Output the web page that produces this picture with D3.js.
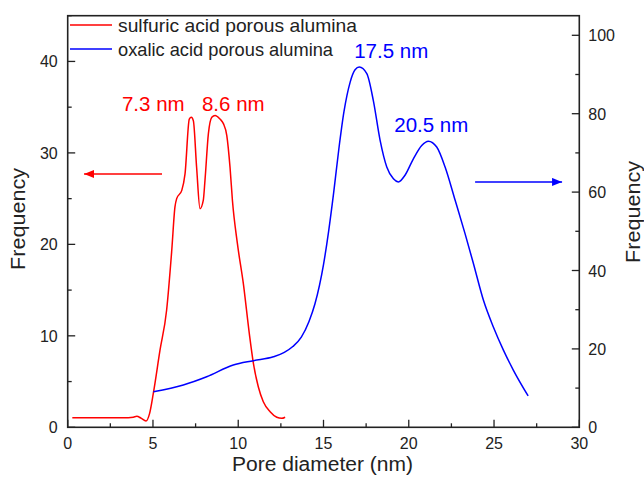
<!DOCTYPE html>
<html>
<head>
<meta charset="utf-8">
<script src="https://cdn.jsdelivr.net/npm/d3@7"></script>
<style>
  body { margin: 0; background: #fff; }
  text { font-family: "Liberation Sans", Arial, sans-serif; }
</style>
</head>
<body>
<div id="chart"></div>
<script>
// sulfuric acid porous alumina (left axis)
const sulfuricX = [0.27, 1.5, 3.55, 3.85, 4.05, 4.3, 4.59, 4.8, 5.02, 5.41, 5.8, 6.1, 6.29, 6.39, 6.69, 6.88, 7.13, 7.25, 7.37, 7.56, 7.76, 7.95, 8.05, 8.25, 8.45, 8.64, 8.93, 9.13, 9.33, 9.52, 9.66, 9.95, 10.3, 10.65, 10.89, 11.18, 11.47, 11.87, 12.26, 12.55, 12.75];
const sulfuricY = [1.05, 1.05, 1.05, 1.1, 1.2, 1.0, 0.69, 1.5, 3.7, 8.4, 12.8, 19.3, 24.1, 25.0, 25.9, 27.7, 33.7, 33.9, 33.5, 28.4, 23.9, 24.8, 27.0, 32.1, 33.9, 34.1, 33.7, 33.2, 31.9, 28.4, 24.8, 20.1, 15.7, 10.25, 7.0, 4.4, 2.8, 1.7, 1.1, 0.98, 1.1];

// oxalic acid porous alumina (right axis)
const oxalicX = [5.02, 6.78, 8.15, 9.71, 10.89, 12.06, 12.7, 13.2, 13.7, 14.15, 14.5, 15.0, 15.3, 15.6, 15.9, 16.2, 16.56, 16.85, 17.1, 17.54, 17.92, 18.32, 18.71, 19.1, 19.39, 19.78, 20.27, 20.76, 21.15, 21.64, 22.13, 22.72, 23.3, 23.79, 24.38, 24.96, 25.55, 26.13, 27.0];
const oxalicY = [9.07, 10.8, 12.9, 15.9, 17.0, 18.0, 19.1, 20.6, 23.0, 27.0, 31.5, 41.5, 50.0, 60.0, 71.0, 80.5, 88.0, 91.2, 91.9, 90.2, 83.4, 73.2, 66.4, 63.4, 62.6, 64.3, 68.5, 71.9, 73.0, 71.5, 66.4, 57.9, 49.4, 41.8, 32.4, 25.6, 19.7, 14.6, 8.0];

const seriesNames = ["sulfuric acid porous alumina", "oxalic acid porous alumina"];
const xTicks = [0, 5, 10, 15, 20, 25, 30];
const leftTicks = [0, 10, 20, 30, 40];
const rightTicks = [0, 20, 40, 60, 80, 100];

// peak labels: [x, y, text] (text centre / baseline in data units)
const sulfuricPeaks = [[5.02, 34.6, "7.3 nm"], [9.71, 34.6, "8.6 nm"]];
const oxalicPeaks = [[18.97, 94.2, "17.5 nm"], [21.32, 75.3, "20.5 nm"]];
// arrows: [fromX, toX, y]
const sulfuricArrow = [5.53, 0.96, 27.7];
const oxalicArrow = [23.89, 28.99, 62.6];

const width = 644, height = 485;
const margin = { top: 15.7, right: 64.7, bottom: 57.7, left: 67.7 };
const red = "#ff0000", blue = "#0000ff", ink = "#222";

const svg = d3.select("#chart").append("svg")
  .attr("width", width).attr("height", height);

const x = d3.scaleLinear().domain([0, 30]).range([margin.left, width - margin.right]);
const yL = d3.scaleLinear().domain([0, 45]).range([height - margin.bottom, margin.top]);
const yR = d3.scaleLinear().domain([0, 105]).range([height - margin.bottom, margin.top]);

const x0 = margin.left, x1 = width - margin.right, y0 = height - margin.bottom, y1 = margin.top;

// minor ticks
const minorX = d3.range(0, 30.01, 2.5).filter(v => v % 5 !== 0);
const minorL = d3.range(0, 45.01, 5).filter(v => v % 10 !== 0);
const minorR = d3.range(0, 105.01, 10).filter(v => v % 20 !== 0);

const tk = svg.append("g").attr("stroke", ink).attr("stroke-width", 1.3);
xTicks.forEach(v => tk.append("line").attr("x1", x(v)).attr("x2", x(v)).attr("y1", y0).attr("y2", y0 - 7.5));
minorX.forEach(v => tk.append("line").attr("x1", x(v)).attr("x2", x(v)).attr("y1", y0).attr("y2", y0 - 4));
leftTicks.forEach(v => tk.append("line").attr("x1", x0).attr("x2", x0 + 7.5).attr("y1", yL(v)).attr("y2", yL(v)));
minorL.forEach(v => tk.append("line").attr("x1", x0).attr("x2", x0 + 4).attr("y1", yL(v)).attr("y2", yL(v)));
rightTicks.forEach(v => tk.append("line").attr("x1", x1).attr("x2", x1 - 7.5).attr("y1", yR(v)).attr("y2", yR(v)));
minorR.forEach(v => tk.append("line").attr("x1", x1).attr("x2", x1 - 4).attr("y1", yR(v)).attr("y2", yR(v)));

// frame
svg.append("rect").attr("x", x0).attr("y", y1).attr("width", x1 - x0).attr("height", y0 - y1)
  .attr("fill", "none").attr("stroke", ink).attr("stroke-width", 1.6);

// tick labels
const tl = svg.append("g").attr("font-size", 16).attr("fill", ink);
xTicks.forEach(v => tl.append("text").attr("x", x(v)).attr("y", y0 + 22).attr("text-anchor", "middle").text(v));
leftTicks.forEach(v => tl.append("text").attr("x", x0 - 10).attr("y", yL(v) + 6).attr("text-anchor", "end").text(v));
rightTicks.forEach(v => tl.append("text").attr("x", x1 + 9).attr("y", yR(v) + 6).attr("text-anchor", "start").text(v));

// axis titles
svg.append("text").attr("x", 232).attr("y", 471)
  .attr("font-size", 20).attr("fill", ink)
  .attr("textLength", 181).attr("lengthAdjust", "spacingAndGlyphs").text("Pore diameter (nm)");
svg.append("text").attr("transform", "translate(25,270) rotate(-90)")
  .attr("font-size", 20).attr("fill", ink)
  .attr("textLength", 102).attr("lengthAdjust", "spacingAndGlyphs").text("Frequency");
svg.append("text").attr("transform", "translate(640,263) rotate(-90)")
  .attr("font-size", 20).attr("fill", ink)
  .attr("textLength", 102).attr("lengthAdjust", "spacingAndGlyphs").text("Frequency");

// curves
const lineL = d3.line().x(d => x(d[0])).y(d => yL(d[1])).curve(d3.curveMonotoneX);
const lineR = d3.line().x(d => x(d[0])).y(d => yR(d[1])).curve(d3.curveMonotoneX);
svg.append("path").datum(d3.zip(sulfuricX, sulfuricY)).attr("d", lineL)
  .attr("fill", "none").attr("stroke", red).attr("stroke-width", 1.5);
svg.append("path").datum(d3.zip(oxalicX, oxalicY)).attr("d", lineR)
  .attr("fill", "none").attr("stroke", blue).attr("stroke-width", 1.5);

// peak labels
sulfuricPeaks.forEach(p => svg.append("text").attr("x", x(p[0])).attr("y", yL(p[1]))
  .attr("text-anchor", "middle").attr("font-size", 20.5).attr("fill", red).text(p[2]));
oxalicPeaks.forEach(p => svg.append("text").attr("x", x(p[0])).attr("y", yR(p[1]))
  .attr("text-anchor", "middle").attr("font-size", 20.5).attr("fill", blue).text(p[2]));

// arrows
const defs = svg.append("defs");
[["ahRed", red], ["ahBlue", blue]].forEach(([id, c]) => {
  defs.append("marker").attr("id", id).attr("viewBox", "0 0 10 8").attr("refX", 10).attr("refY", 4)
    .attr("markerWidth", 10).attr("markerHeight", 8).attr("markerUnits", "userSpaceOnUse").attr("orient", "auto")
    .append("path").attr("d", "M0,0 L10,4 L0,8 Z").attr("fill", c);
});
svg.append("line").attr("x1", x(sulfuricArrow[0])).attr("x2", x(sulfuricArrow[1]))
  .attr("y1", yL(sulfuricArrow[2])).attr("y2", yL(sulfuricArrow[2]))
  .attr("stroke", red).attr("stroke-width", 1.5).attr("marker-end", "url(#ahRed)");
svg.append("line").attr("x1", x(oxalicArrow[0])).attr("x2", x(oxalicArrow[1]))
  .attr("y1", yR(oxalicArrow[2])).attr("y2", yR(oxalicArrow[2]))
  .attr("stroke", blue).attr("stroke-width", 1.5).attr("marker-end", "url(#ahBlue)");

// legend
const lg = svg.append("g");
const legendLen = [239, 215];
[[red, 25], [blue, 49]].forEach(([c, ly], i) => {
  lg.append("line").attr("x1", 70).attr("x2", 112).attr("y1", ly).attr("y2", ly)
    .attr("stroke", c).attr("stroke-width", 1.5);
  lg.append("text").attr("x", 118).attr("y", ly + 6.5).attr("font-size", 19).attr("fill", ink)
    .attr("textLength", legendLen[i]).attr("lengthAdjust", "spacingAndGlyphs")
    .text(seriesNames[i]);
});
</script>
</body>
</html>
